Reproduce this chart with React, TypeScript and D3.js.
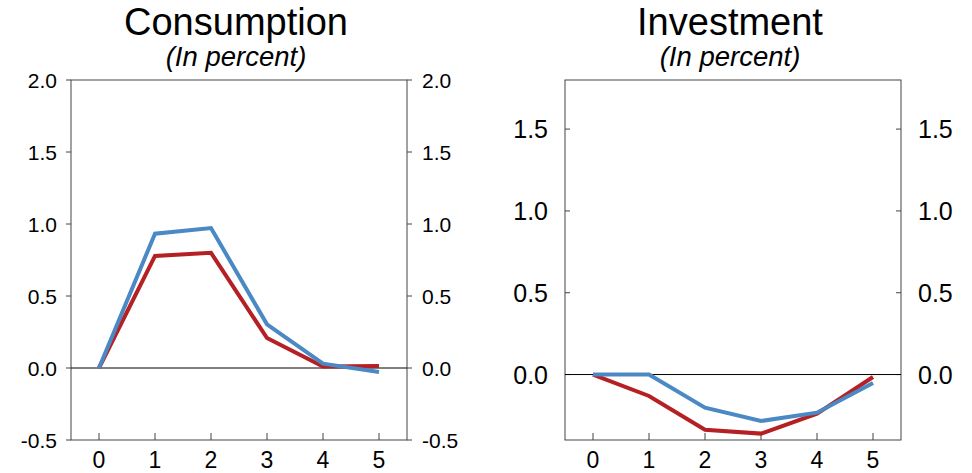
import React from "react";
import * as d3 from "d3";

const periods = [0, 1, 2, 3, 4, 5];

const consumptionBlue = [0, 0.933, 0.972, 0.303, 0.03, -0.028];
const consumptionRed = [0, 0.778, 0.8, 0.208, 0.01, 0.014];

const investmentBlue = [0, 0, -0.202, -0.284, -0.233, -0.051];
const investmentRed = [0, -0.131, -0.337, -0.361, -0.239, -0.015];

const consumptionTicks = [-0.5, 0, 0.5, 1.0, 1.5, 2.0];
const investmentTicks = [0, 0.5, 1.0, 1.5];

const BLUE = "#4a89c3";
const RED = "#b52024";
const FONT = "'Liberation Sans', Arial, Helvetica, sans-serif";

const fmt = (t: number) => d3.format(".1f")(t).replace("\u2212", "-");

type PanelProps = {
  title: string;
  subtitle: string;
  left: number;
  right: number;
  top: number;
  bottom: number;
  yDomain: [number, number];
  yTicks: number[];
  blue: number[];
  red: number[];
  yFont: number;
  leftLabelX: number;
  rightLabelX: number;
  tickInside: boolean;
};

function Panel(p: PanelProps) {
  const x = d3.scaleLinear().domain([-0.5, 5.5]).range([p.left, p.right]);
  const y = d3.scaleLinear().domain(p.yDomain).range([p.bottom, p.top]);
  const line = d3
    .line<number>()
    .x((_, i) => x(periods[i]))
    .y((d) => y(d));
  const cx = (p.left + p.right) / 2;
  const tl = 5;
  const frame = "#444";
  return (
    <g>
      <text x={cx - 3} y={35} textAnchor="middle" fontSize={38} fontFamily={FONT} fill="#000">
        {p.title}
      </text>
      <text x={cx - 3} y={66} textAnchor="middle" fontSize={27.5} fontStyle="italic" fontFamily={FONT} fill="#000">
        {p.subtitle}
      </text>
      <rect x={p.left} y={p.top} width={p.right - p.left} height={p.bottom - p.top} fill="none" stroke={frame} strokeWidth={1} />
      {p.yTicks.map((t) => (
        <g key={"y" + t}>
          <line
            x1={p.tickInside ? p.left : p.left - tl}
            x2={p.tickInside ? p.left + tl : p.left}
            y1={y(t)}
            y2={y(t)}
            stroke={frame}
          />
          <line
            x1={p.tickInside ? p.right - tl : p.right}
            x2={p.tickInside ? p.right : p.right + tl}
            y1={y(t)}
            y2={y(t)}
            stroke={frame}
          />
          <text x={p.leftLabelX} y={y(t)} dy="0.36em" textAnchor="end" fontSize={p.yFont} fontFamily={FONT} fill="#000">
            {fmt(t)}
          </text>
          <text x={p.rightLabelX} y={y(t)} dy="0.36em" textAnchor="start" fontSize={p.yFont} fontFamily={FONT} fill="#000">
            {fmt(t)}
          </text>
        </g>
      ))}
      {periods.map((t) => (
        <g key={"x" + t}>
          <line x1={x(t)} x2={x(t)} y1={p.bottom} y2={p.bottom - 7} stroke={frame} />
          <text x={x(t)} y={p.bottom + 28} textAnchor="middle" fontSize={23} fontFamily={FONT} fill="#000">
            {t}
          </text>
        </g>
      ))}
      <line x1={p.left} x2={p.right} y1={y(0)} y2={y(0)} stroke="#000" strokeWidth={1} />
      <path d={line(p.red) || ""} fill="none" stroke={RED} strokeWidth={4} strokeLinejoin="miter" />
      <path d={line(p.blue) || ""} fill="none" stroke={BLUE} strokeWidth={4} strokeLinejoin="miter" />
    </g>
  );
}

export default function App() {
  return (
    <svg
      width={972}
      height={473}
      style={{ position: "absolute", left: 0, top: 0, background: "#fff" }}
    >
      <rect x={0} y={0} width={972} height={473} fill="#fff" />
      <Panel
        title="Consumption"
        subtitle="(In percent)"
        left={71}
        right={407}
        top={80}
        bottom={440}
        yDomain={[-0.5, 2.0]}
        yTicks={consumptionTicks}
        blue={consumptionBlue}
        red={consumptionRed}
        yFont={21}
        leftLabelX={57}
        rightLabelX={422}
        tickInside={false}
      />
      <Panel
        title="Investment"
        subtitle="(In percent)"
        left={565}
        right={901}
        top={80}
        bottom={440}
        yDomain={[-0.4, 1.8]}
        yTicks={investmentTicks}
        blue={investmentBlue}
        red={investmentRed}
        yFont={25}
        leftLabelX={548}
        rightLabelX={918}
        tickInside={true}
      />
    </svg>
  );
}
